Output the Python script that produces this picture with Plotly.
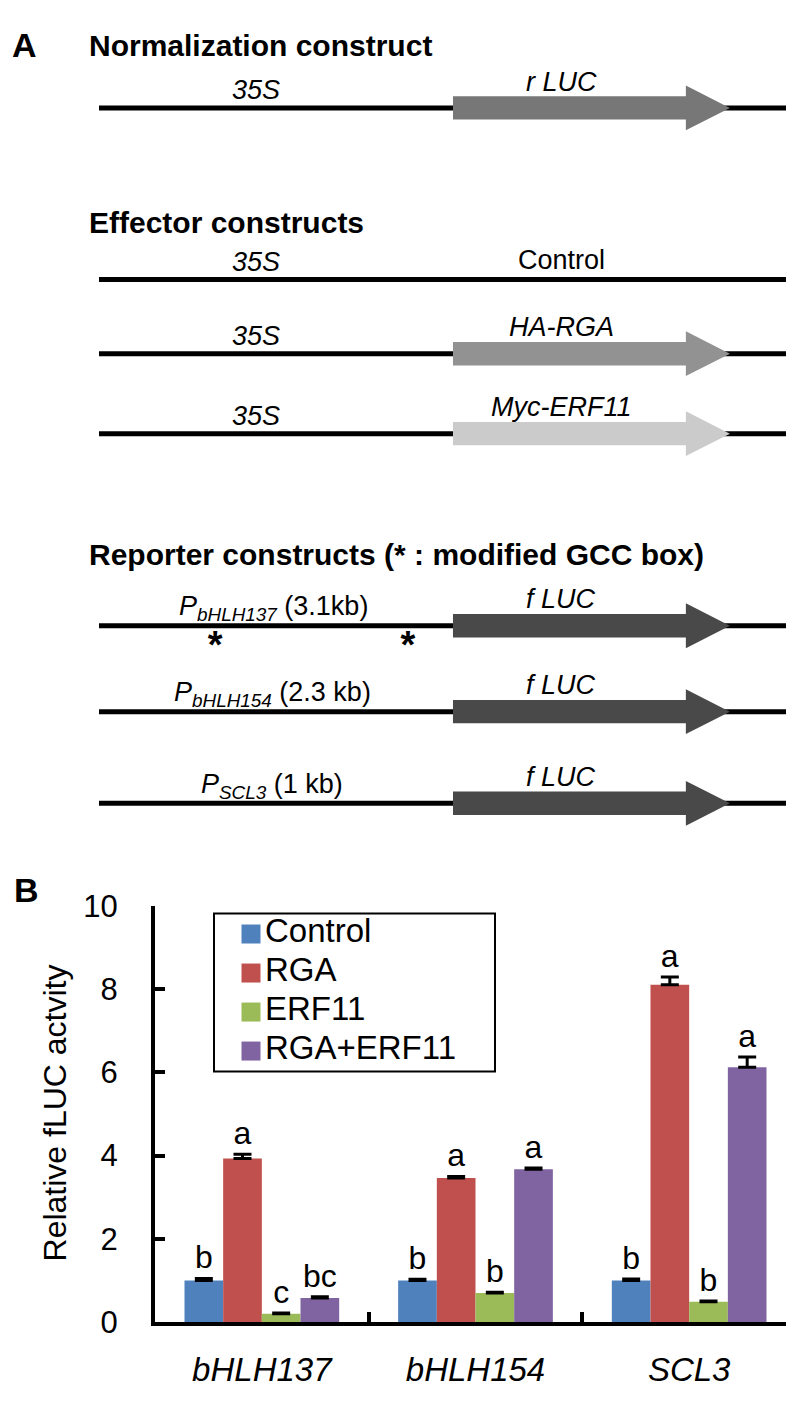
import plotly.graph_objects as go

W, H = 794, 1419
FONT = "Liberation Sans, Arial, Helvetica, sans-serif"

# ---------------- Panel A data ----------------
section_titles = ["Normalization construct", "Effector constructs",
                  "Reporter constructs (* : modified GCC box)"]
promoter_names = ["35S", "35S", "35S", "35S",
                  "P<sub>bHLH137</sub>", "P<sub>bHLH154</sub>", "P<sub>SCL3</sub>"]
promoter_sizes = ["", "", "", "", "(3.1kb)", "(2.3 kb)", "(1 kb)"]
gene_labels = ["r LUC", "Control", "HA-RGA", "Myc-ERF11", "f LUC", "f LUC", "f LUC"]
gene_italic = [True, False, True, True, True, True, True]
gene_colors = ["#777777", None, "#929292", "#cbcbcb", "#494949", "#494949", "#494949"]
gcc_box_sites = [[], [], [], [], [0.169, 0.449], [], []]

# ---------------- Panel B data ----------------
genes_b = ["bHLH137", "bHLH154", "SCL3"]
series_names = ["Control", "RGA", "ERF11", "RGA+ERF11"]
control = [1.0, 1.0, 1.0]
control_err = [0.05, 0.03, 0.04]
rga = [3.93, 3.46, 8.1]
rga_err = [0.1, 0.04, 0.19]
erf11 = [0.2, 0.7, 0.49]
erf11_err = [0.02, 0.02, 0.02]
rga_erf11 = [0.58, 3.67, 6.12]
rga_erf11_err = [0.03, 0.03, 0.25]
letters_control = ["b", "b", "b"]
letters_rga = ["a", "a", "a"]
letters_erf11 = ["c", "b", "b"]
letters_rga_erf11 = ["bc", "a", "a"]
y_title = "Relative fLUC actvity"

series_colors = ["#4F81BD", "#C0504D", "#9BBB59", "#8064A2"]

# ---------------- layout constants (positions / styles) ----------------
row_y = [85, 261, 337, 419, 616, 704, 798]      # panel-A row positions (px from top)
title_y = [21, 202, 543]
promoter_x = [0.228, 0.228, 0.228, 0.228, 0.254, 0.252, 0.251]
gene_x = 0.672
GS, HB, TIP = 0.5145, 0.853, 0.917              # arrow geometry along backbone
BH, HH = 12, 23                                 # half heights of body / head
LEG_BOX = (206, 911, 487, 1073)                 # legend box in px
LEG_ROW0, LEG_STEP, LEG_SW_X, LEG_TXT_X = 21, 40, 37, 51


def py(y):
    return 1 - y / H


fig = go.Figure()

# backbone lines
bx, by = [], []
for y in row_y:
    bx += [0, 1, None]
    by += [y, y, None]
fig.add_trace(go.Scatter(x=bx, y=by, mode="lines", line=dict(color="black", width=5),
                         xaxis="x2", yaxis="y2", showlegend=False, hoverinfo="skip"))

# gene arrows
for y, c in zip(row_y, gene_colors):
    if c is None:
        continue
    xs = [GS, HB, HB, TIP, HB, HB, GS, GS]
    ys = [y - BH, y - BH, y - HH, y, y + HH, y + BH, y + BH, y - BH]
    fig.add_trace(go.Scatter(x=xs, y=ys, mode="lines", fill="toself", fillcolor=c,
                             line=dict(width=0, color=c), xaxis="x2", yaxis="y2",
                             showlegend=False, hoverinfo="skip"))

# modified GCC box asterisks
ax_, ay_ = [], []
for y, sites in zip(row_y, gcc_box_sites):
    for s in sites:
        ax_.append(s)
        ay_.append(y + 23)
fig.add_trace(go.Scatter(x=ax_, y=ay_, mode="text", text=["<b>*</b>"] * len(ax_),
                         textfont=dict(size=38, color="black", family=FONT),
                         xaxis="x2", yaxis="y2", showlegend=False, hoverinfo="skip"))

annotations = []
# section titles
for t, y in zip(section_titles, title_y):
    annotations.append(dict(text=f"<b>{t}</b>", x=79 / W, y=py(y), xref="paper", yref="paper",
                            xanchor="left", yanchor="middle", showarrow=False,
                            font=dict(size=30, color="black", family=FONT)))
# promoter + gene labels
for i, y in enumerate(row_y):
    ptxt = f"<i>{promoter_names[i]}</i>"
    if promoter_sizes[i]:
        ptxt += f" {promoter_sizes[i]}"
    annotations.append(dict(text=ptxt, x=promoter_x[i], y=y - 18, xref="x2", yref="y2",
                            xanchor="center", yanchor="middle", showarrow=False,
                            font=dict(size=27, color="black", family=FONT)))
    gtxt = f"<i>{gene_labels[i]}</i>" if gene_italic[i] else gene_labels[i]
    off = 27 if gene_colors[i] else 20
    annotations.append(dict(text=gtxt, x=gene_x, y=y - off, xref="x2", yref="y2",
                            xanchor="center", yanchor="middle", showarrow=False,
                            font=dict(size=27, color="black", family=FONT)))

# panel letters
annotations.append(dict(text="<b>A</b>", x=16 / W, y=py(21), xref="paper", yref="paper",
                        xanchor="center", yanchor="middle", showarrow=False,
                        font=dict(size=34, color="black", family=FONT)))
annotations.append(dict(text="<b>B</b>", x=18 / W, y=py(887), xref="paper", yref="paper",
                        xanchor="center", yanchor="middle", showarrow=False,
                        font=dict(size=34, color="black", family=FONT)))
# y-axis title
annotations.append(dict(text=y_title, x=47 / W, y=py(1116), xref="paper", yref="paper",
                        xanchor="center", yanchor="middle", textangle=-90, showarrow=False,
                        font=dict(size=32, color="black", family=FONT)))

# ---------------- Panel B bars ----------------
all_vals = [control, rga, erf11, rga_erf11]
all_errs = [control_err, rga_err, erf11_err, rga_erf11_err]
all_letters = [letters_control, letters_rga, letters_erf11, letters_rga_erf11]

for name, vals, errs, col in zip(series_names, all_vals, all_errs, series_colors):
    fig.add_trace(go.Bar(x=genes_b, y=vals, name=name, offsetgroup=name,
                         marker=dict(color=col, line=dict(width=0)),
                         error_y=dict(type="data", array=errs, arrayminus=[0] * len(errs),
                                      symmetric=False, color="black", thickness=3, width=9),
                         xaxis="x", yaxis="y", hoverinfo="skip", showlegend=False))
for name, vals, errs, lets in zip(series_names, all_vals, all_errs, all_letters):
    fig.add_trace(go.Bar(x=genes_b, y=[v + e for v, e in zip(vals, errs)], offsetgroup=name,
                         marker=dict(color="rgba(0,0,0,0)", line=dict(width=0)),
                         text=lets, textposition="outside", constraintext="none",
                         cliponaxis=False, textfont=dict(size=32, color="black", family=FONT),
                         showlegend=False, xaxis="x", yaxis="y", hoverinfo="skip"))

# legend (drawn on its own hidden axes, box = axes domain)
lx0, ly0, lx1, ly1 = LEG_BOX
leg_rows = [LEG_ROW0 + LEG_STEP * i for i in range(len(series_names))]
fig.add_trace(go.Scatter(
    x=[LEG_SW_X] * len(series_names), y=leg_rows, mode="markers",
    marker=dict(symbol="square", size=19, color=series_colors, line=dict(width=0)),
    xaxis="x3", yaxis="y3", showlegend=False, hoverinfo="skip", cliponaxis=False))
fig.add_trace(go.Scatter(
    x=[LEG_TXT_X] * len(series_names), y=leg_rows, mode="text",
    text=series_names, textposition="middle right",
    textfont=dict(size=33, color="black", family=FONT),
    xaxis="x3", yaxis="y3", showlegend=False, hoverinfo="skip", cliponaxis=False))

shapes = [dict(type="rect", xref="x3 domain", yref="y3 domain", x0=0, x1=1, y0=0, y1=1,
               line=dict(color="black", width=2), fillcolor="rgba(0,0,0,0)", layer="above")]

fig.update_layout(
    width=W, height=H, margin=dict(l=0, r=0, t=0, b=0),
    paper_bgcolor="white", plot_bgcolor="white",
    font=dict(family=FONT, color="black"),
    barmode="group", bargap=0.276, bargroupgap=0,
    annotations=annotations, shapes=shapes,
    xaxis=dict(domain=[147 / W, 788 / W], anchor="y", range=[-0.5, 2.5],
               showline=True, linecolor="black", linewidth=4,
               ticks="inside", tickson="boundaries", ticklen=10, tickwidth=4, tickcolor="black",
               tickfont=dict(size=33, style="italic", family=FONT, color="black"),
               ticklabelstandoff=15, showgrid=False, zeroline=False),
    yaxis=dict(domain=[1 - 1330 / H, 1 - 903 / H], anchor="x", range=[0, 10], dtick=2,
               showline=True, linecolor="black", linewidth=4,
               ticks="inside", ticklen=10, tickwidth=4, tickcolor="black",
               tickfont=dict(size=31, family=FONT, color="black"),
               ticklabelstandoff=27, showgrid=False, zeroline=False),
    xaxis2=dict(domain=[91 / W, 779 / W], anchor="y2", range=[0, 1], visible=False),
    yaxis2=dict(domain=[1 - 860 / H, 1], anchor="x2", range=[860, 0], visible=False),
    xaxis3=dict(domain=[lx0 / W, lx1 / W], anchor="y3", range=[0, lx1 - lx0], visible=False),
    yaxis3=dict(domain=[py(ly1), py(ly0)], anchor="x3", range=[ly1 - ly0, 0], visible=False),
    showlegend=False,
)

fig.write_html("out.html")
